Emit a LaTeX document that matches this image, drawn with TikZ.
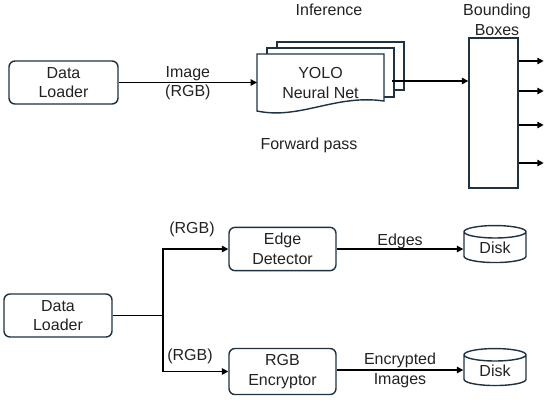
\documentclass[tikz,border=0pt]{standalone}
\usepackage{fontspec}
\setmainfont{Liberation Sans}
\usetikzlibrary{arrows.meta,positioning,shapes.geometric,calc}
\definecolor{trait}{HTML}{1E3242}
\definecolor{texte}{HTML}{222222}

\begin{document}
\begin{tikzpicture}[x=0.02cm,y=-0.02cm,
  every node/.style={font=\fontsize{9.1}{11.3}\selectfont,text=texte,align=center},
  boite/.style={draw=trait,line width=0.8pt,rounded corners=3.4pt,fill=white},
  page/.style={draw=trait,line width=0.8pt,fill=white},
  disque/.style={draw=trait,line width=0.8pt,cylinder,shape border rotate=90,aspect=0.4,minimum width=1.24cm,minimum height=0.74cm,inner sep=0pt},
  fleche/.style={-{Triangle[length=3.6pt,width=3.6pt]},line width=0.8pt,black}]
  \useasboundingbox (0,0) rectangle (550,403);
  % Haut : inference
  \node[boite,minimum width=2.18cm,minimum height=0.86cm] (dl1) at (63.5,82.5) {Data\\Loader};
  \draw[page] (277,42) rectangle (404,90);
  \draw[page] (267,48) rectangle (394,97);
  \draw[page] (257,54) -- (384,54) -- (384,101) .. controls (335,94) and (300,120) .. (257,111) -- cycle;
  \node (yolo) at (320.5,83) {YOLO\\Neural Net};
  \node (inf) at (329,10) {Inference};
  \node (fwd) at (309,145) {Forward pass};
  \node[draw=trait,line width=0.8pt,minimum width=0.98cm,minimum height=3cm,inner sep=0pt] (bb) at (493.5,113) {};
  \node (bblbl) at (497,19.5) {Bounding\\Boxes};
  \coordinate (yout) at (392,81);
  \draw[fleche] (dl1.east) -- node[above=-2.5pt]{Image} node[below=-2.5pt]{(RGB)} (dl1.east -| 257,0);
  \draw[fleche] (yout) -- (yout -| bb.west);
  \foreach \yy in {61,91,125,163}
    \draw[fleche] (bb.east |- 0,\yy) -- ++(25,0);
  % Bas : contours et chiffrement
  \node[boite,minimum width=2.16cm,minimum height=0.86cm] (dl2) at (58,315.5) {Data\\Loader};
  \node[boite,minimum width=2.14cm,minimum height=0.84cm] (edge) at (282.5,249) {Edge\\Detector};
  \node[boite,minimum width=2.14cm,minimum height=0.86cm] (enc) at (282.5,371.5) {RGB\\Encryptor};
  \node[disque] (disk1) at (495,247.5) {Disk};
  \node[disque] (disk2) at (495,370.5) {Disk};
  \coordinate (split) at (163,315.5);
  \draw[line width=0.8pt] (dl2.east) -- (split);
  \draw[fleche] (split) |- (edge.west);
  \draw[fleche] (split) |- (enc.west);
  \node (rgb1) at (192,229) {(RGB)};
  \node (rgb2) at (190,356) {(RGB)};
  \draw[fleche] (edge.east) -- node[above=-3.5pt]{Edges} (edge.east -| disk1.west);
  \draw[fleche] (enc.east |- 0,370) -- node{Encrypted\\Images} (disk2.west |- 0,370);
\end{tikzpicture}
\end{document}
